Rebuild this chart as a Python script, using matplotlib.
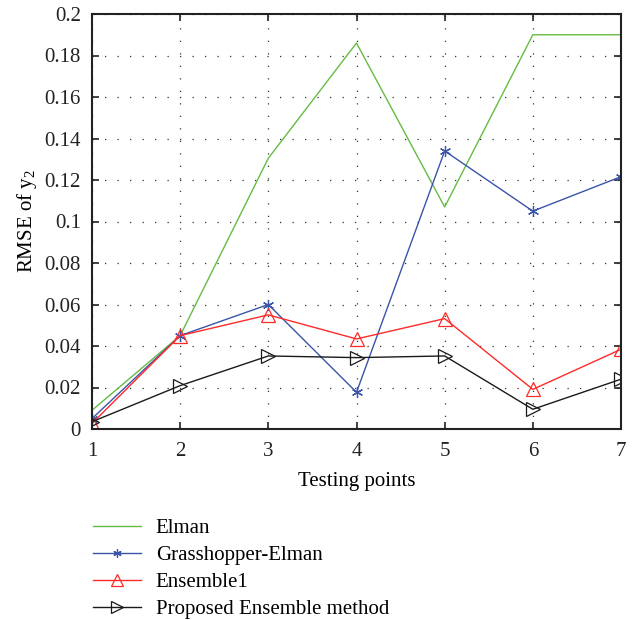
import matplotlib
matplotlib.use("Agg")
import matplotlib.pyplot as plt
from matplotlib.lines import Line2D

x = [1, 2, 3, 4, 5, 6, 7]
elman = [0.009, 0.045, 0.1305, 0.186, 0.107, 0.190, 0.190]
grasshopper = [0.005, 0.045, 0.060, 0.0177, 0.134, 0.105, 0.1216]
ensemble1 = [0.0027, 0.045, 0.055, 0.0434, 0.0532, 0.0191, 0.0384]
proposed = [0.0035, 0.0209, 0.0352, 0.0344, 0.0352, 0.0095, 0.024]

labels = ["Elman", "Grasshopper-Elman", "Ensemble1", "Proposed Ensemble method"]
yticks = [0, 0.02, 0.04, 0.06, 0.08, 0.1, 0.12, 0.14, 0.16, 0.18, 0.2]
ytick_labels = ["0", "0.02", "0.04", "0.06", "0.08", "0.1", "0.12", "0.14", "0.16", "0.18", "0.2"]

plt.rcParams['font.family'] = ['Liberation Serif', 'DejaVu Serif']
plt.rcParams['mathtext.fontset'] = 'custom'
plt.rcParams['mathtext.rm'] = 'Liberation Serif'
plt.rcParams['mathtext.it'] = 'Liberation Serif'

fig = plt.figure(figsize=(6.4, 6.2), dpi=100)
ax = fig.add_axes([92/640, 1-429/620, (621-92)/640, (429-14)/620])

green = '#66bb44'
blue = '#3a55a8'
red = '#ff2a2a'
black = '#1a1a1a'

ax.plot(x, elman, color=green, lw=1.0)
ax.plot(x, grasshopper, color=blue, lw=1.0, marker=(6, 2, 0), ms=8, mew=0.9)
ax.plot(x, ensemble1, color=red, lw=1.0, marker='^', ms=10, mfc='none', mew=0.9)
ax.plot(x, proposed, color=black, lw=1.0, marker='>', ms=10, mfc='none', mew=0.9)

ax.set_xlim(1, 7)
ax.set_ylim(0, 0.2)
ax.set_xticks(x)
ax.set_yticks(yticks)
ax.set_yticklabels(ytick_labels)
ax.tick_params(direction='in', length=5, width=1.2, top=True, right=True, labelsize=15, colors='#222222')
ax.tick_params(axis='x', pad=9)
ax.tick_params(axis='y', pad=8)
for s in ax.spines.values():
    s.set_linewidth(1.5)
    s.set_color('#222222')
ax.grid(True, linestyle=(0, (1, 9)), color='#333333', lw=0.9)

ax.set_xlabel("Testing points", fontsize=15, labelpad=8)
ax.set_ylabel("RMSE of y$_2$", fontsize=15, labelpad=4)

handles = [
    Line2D([], [], color=green, lw=1.0),
    Line2D([], [], color=blue, lw=1.0, marker=(6, 2, 0), ms=6, mew=0.9),
    Line2D([], [], color=red, lw=1.0, marker='^', ms=8, mfc='none', mew=0.9),
    Line2D([], [], color=black, lw=1.0, marker='>', ms=8, mfc='none', mew=0.9),
]
fig.legend(handles, labels, loc='upper left', bbox_to_anchor=(85/640, 1-510/620),
           frameon=False, fontsize=15, handlelength=2.3, handletextpad=0.7,
           labelspacing=0.36, borderaxespad=0)

fig.savefig("out.png", dpi=100)
